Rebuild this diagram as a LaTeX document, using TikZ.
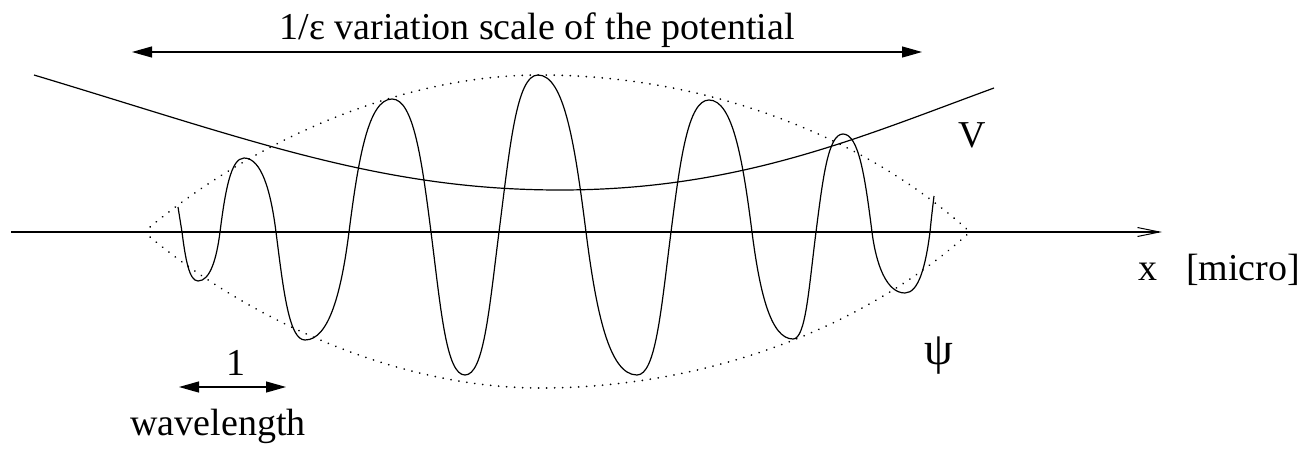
\documentclass[tikz,border=0pt]{standalone}
\usepackage{fontspec}
\setmainfont{Liberation Serif}
\usetikzlibrary{arrows.meta}

\begin{document}
\begin{tikzpicture}[x=1pt,y=1pt,line width=1.2pt,
  every node/.style={font=\fontsize{38}{40}\selectfont,inner sep=0pt},
  envelope/.style={line width=1.9pt,dash pattern=on 0.01pt off 8pt,line cap=round},
  dimarrow/.style={{Triangle[length=20pt,width=11pt]}-{Triangle[length=20pt,width=11pt]}},
  axisarrow/.style={-{Straight Barb[length=22pt,width=9pt,line width=1pt]}}]
\useasboundingbox (0,-216) rectangle (1307,232);

\coordinate (xL) at (11,0);
\coordinate (xR) at (1162,0);
\coordinate (scaleL) at (132,180);
\coordinate (scaleR) at (922,180);
\coordinate (wlL) at (179,-155);
\coordinate (wlR) at (286,-155);
\coordinate (EL) at (144,0);
\coordinate (ER) at (970,0);
\coordinate (Etop) at (540,157);
\coordinate (Ebot) at (540,-156);
\coordinate (Vstart) at (34,157);
\coordinate (Vmin) at (560,42);
\coordinate (Vend) at (994,144);

\draw[axisarrow] (xL) -- (xR);
\draw[dimarrow] (scaleL) -- (scaleR);
\draw[dimarrow] (wlL) -- (wlR);

% envelope of psi
\draw[envelope] (EL) .. controls (250,90) and (400,157) .. (Etop)
  .. controls (700,157) and (860,100) .. (ER);
\draw[envelope] (EL) .. controls (250,-90) and (400,-156) .. (Ebot)
  .. controls (700,-156) and (860,-100) .. (ER);

% potential V
\draw (Vstart) .. controls (250,92) and (380,42) .. (Vmin)
  .. controls (740,42) and (860,95) .. (Vend);

% wave function psi, one half loop per crossing pair
\draw (178,25) .. controls (179.5,12) .. (182,0);
\foreach \a/\m/\h/\b in {182/198/-49/220, 220/244/74/276, 276/305/-108/349,
  349/392/133/431, 431/465/-143/499, 499/538/157/586, 586/637/-143/671,
  671/709/132/752, 752/793/-107/816, 816/843/98/872, 872/905/-61/930}
  \draw (\a,0) .. controls ({\a+0.07*abs(\h)},{0.55*\h}) and ({\m-0.55*(\m-\a)},\h) .. (\m,\h)
    .. controls ({\m+0.55*(\b-\m)},\h) and ({\b-0.07*abs(\h)},{0.55*\h}) .. (\b,0);
\draw (930,0) .. controls (931.5,15) .. (934,36);

\node[anchor=base] (title) at (537,193) {1/ε variation scale of the potential};
\node[anchor=base] (vlabel) at (972,85) {V};
\node[anchor=base west] (xlabel) at (1138,-48) {x\ \ \ [micro]};
\node[font=\fontsize{46}{48}\selectfont] (psilabel) at (939,-124) {ψ};
\node[anchor=base] (one) at (236,-143) {1};
\node[anchor=base] (wavelen) at (218,-203) {wavelength};
\end{tikzpicture}
\end{document}
